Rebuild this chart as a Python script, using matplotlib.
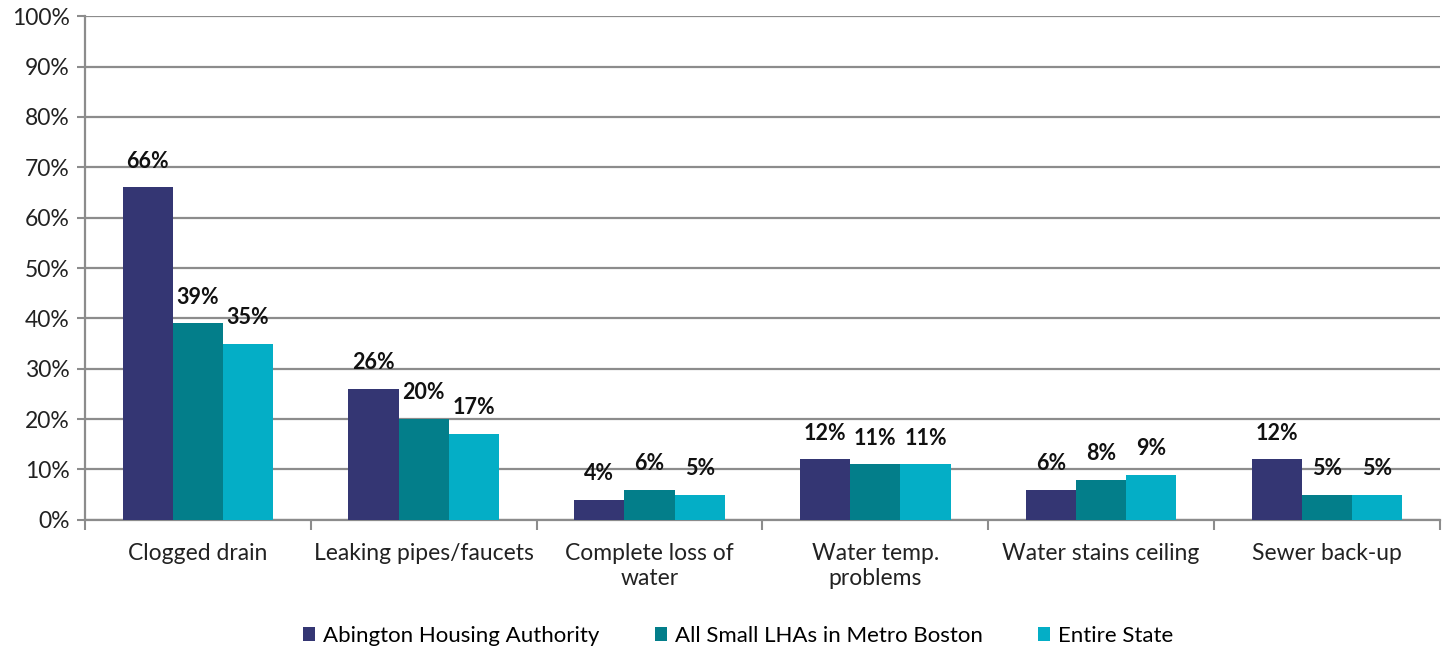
import matplotlib.pyplot as plt
import numpy as np

categories = ["Clogged drain", "Leaking pipes/faucets", "Complete loss of\nwater",
              "Water temp.\nproblems", "Water stains ceiling", "Sewer back-up"]
series_names = ["Abington Housing Authority", "All Small LHAs in Metro Boston", "Entire State"]
abington = [66, 26, 4, 12, 6, 12]
metro = [39, 20, 6, 11, 8, 5]
state = [35, 17, 5, 11, 9, 5]
colors = ["#343673", "#037E8A", "#04AEC6"]

plt.rcParams['font.family'] = ['Lato', 'DejaVu Sans']

fig = plt.figure(figsize=(14.5, 6.49), dpi=100)
ax = fig.add_axes([0.0586, 0.199, 0.9344, 0.776])

x = np.arange(len(categories))
w = 0.222
for i, (vals, name) in enumerate(zip([abington, metro, state], series_names)):
    pos = x + (i - 1) * w
    ax.bar(pos, vals, width=w, color=colors[i], label=name, zorder=3)
    for px, v in zip(pos, vals):
        ax.annotate(f"{v}%", (px, v), xytext=(0, 19), textcoords='offset points',
                    ha='center', va='center', fontsize=15.5, fontweight='bold', color='#111111')

ax.set_xlim(-0.5, len(categories) - 0.5)
ax.set_ylim(0, 100)
ax.set_yticks(range(0, 101, 10))
ax.set_yticklabels([f"{t}%" for t in range(0, 101, 10)], fontsize=16.5, color='#222222')
ax.yaxis.grid(True, color='#8c8c8c', linewidth=1.6, zorder=0)
ax.set_axisbelow(True)

ax.set_xticks(x)
ax.set_xticklabels(categories, fontsize=16.5, color='#222222')
ax.tick_params(axis='x', which='major', length=0, pad=17)
ax.set_xticks(np.arange(-0.5, len(categories), 1), minor=True)
ax.tick_params(axis='x', which='minor', length=7, width=1.5, color='#8c8c8c')
ax.tick_params(axis='y', length=6, width=1.5, color='#8c8c8c', pad=5)

for s in ['top', 'right']:
    ax.spines[s].set_visible(False)
for s in ['left', 'bottom']:
    ax.spines[s].set_color('#8c8c8c')
    ax.spines[s].set_linewidth(1.6)

ax.legend(loc='center', bbox_to_anchor=(0.482, -0.23), ncol=3, frameon=False,
          fontsize=16, handlelength=0.55, handleheight=0.55, columnspacing=2.5, handletextpad=0.35)

fig.savefig("out.png", dpi=100)
